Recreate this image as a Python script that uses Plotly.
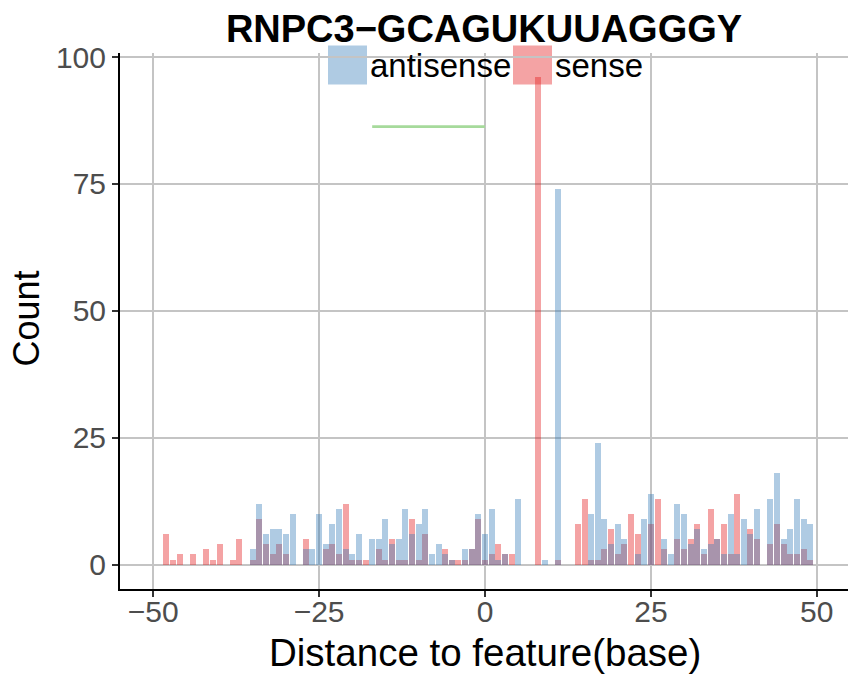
import plotly.graph_objects as go

# ---------------- data ----------------
antisense_x = [-35, -34, -33, -32, -31, -30, -29, -27, -26, -25, -24, -23, -22, -21, -20, -19,
               -17, -16, -15, -14, -13, -12, -11, -10, -9, -8, -7, -6, -5, -3, -2, -1, 0, 1, 2, 3,
               5, 9, 11, 16, 17, 18, 19, 20, 21, 23, 24, 25, 27, 28, 29, 30, 31, 32, 33, 34, 35,
               36, 37, 38, 39, 40, 41, 43, 44, 45, 46, 47, 48, 49]
antisense_y = [3, 12, 6, 7, 7, 6, 10, 3, 3, 10, 4, 8, 11, 3, 2, 6,
               5, 5, 9, 4, 5, 11, 6, 8, 11, 2, 4, 2, 1, 3, 3, 10, 6, 11, 1, 2,
               13, 1, 74, 10, 24, 9, 4, 8, 5, 2, 9, 14, 5, 2, 12, 10, 4, 7, 3, 4, 5,
               2, 10, 2, 9, 6, 11, 13, 18, 5, 7, 13, 9, 8]

sense_x = [-48, -47, -46, -44, -42, -41, -40, -38, -37, -35, -34, -33, -32, -31, -30, -27,
           -24, -23, -22, -21, -20, -19, -18, -16, -15, -14, -13, -12, -11, -10, -9, -6, -5,
           -4, -3, -2, -1, 0, 1, 2, 3, 4, 8, 11, 14, 15, 16, 17, 18, 19, 20, 21, 22, 23, 25,
           26, 27, 29, 30, 31, 32, 33, 34, 35, 36, 37, 38, 40, 41, 43, 44, 45, 46, 47, 48, 49]
sense_y = [6, 1, 2, 2, 3, 1, 4, 1, 5, 1, 9, 4, 2, 4, 2, 5,
           3, 4, 2, 12, 1, 1, 1, 3, 1, 5, 1, 1, 9, 1, 6, 3, 1,
           1, 1, 3, 9, 1, 2, 4, 2, 2, 96, 1, 8, 13, 1, 1, 3, 7, 2, 4, 10, 6, 8,
           13, 3, 5, 3, 5, 8, 2, 11, 5, 8, 2, 14, 7, 5, 4, 8, 4, 2, 2, 3, 1]

motif_x = [-17, 0]
motif_y = [86.3, 86.3]

title_text = "RNPC3\u2212GCAGUKUUAGGGY"
x_title = "Distance to feature(base)"
y_title = "Count"
x_ticks = [-50, -25, 0, 25, 50]
y_ticks = [0, 25, 50, 75, 100]

# ---------------- styles ----------------
FONT = "Liberation Sans, Arial, sans-serif"
BLUE = "rgba(55,126,184,0.4)"
RED = "rgba(228,26,28,0.4)"
BLUE_KEY = "#afcbe3"
RED_KEY = "#f4a3a4"
GRID = "#c4c4c4"

fig = go.Figure()
fig.add_trace(go.Bar(x=sense_x, y=sense_y, width=0.9, name="sense",
                     marker=dict(color=RED, line=dict(width=0))))
fig.add_trace(go.Bar(x=antisense_x, y=antisense_y, width=0.9, name="antisense",
                     marker=dict(color=BLUE, line=dict(width=0))))
fig.add_trace(go.Scatter(x=motif_x, y=motif_y, mode="lines", showlegend=False,
                         line=dict(color="rgb(166,218,155)", width=2.6)))

# manual legend (ggplot style big keys)
L, W, T, H = 120, 728, 53.4, 536
def px(xp):
    return (xp - L) / W
def py(yp):
    return (T + H - yp) / H

shapes = [
    dict(type="rect", xref="paper", yref="paper", x0=px(328), x1=px(367), y0=py(85), y1=py(46),
         fillcolor=BLUE_KEY, line=dict(width=0), layer="between"),
    dict(type="rect", xref="paper", yref="paper", x0=px(513), x1=px(552), y0=py(85), y1=py(46),
         fillcolor=RED_KEY, line=dict(width=0), layer="between"),
]
annotations = [
    dict(text="antisense", xref="paper", yref="paper", x=px(368), y=py(66), xanchor="left",
         yanchor="middle", showarrow=False, font=dict(size=33, color="black", family=FONT)),
    dict(text="sense", xref="paper", yref="paper", x=px(553), y=py(66), xanchor="left",
         yanchor="middle", showarrow=False, font=dict(size=33, color="black", family=FONT)),
    dict(text=x_title, xref="paper", yref="paper", x=px(485), y=py(653), xanchor="center",
         yanchor="middle", showarrow=False, font=dict(size=38.5, color="black", family=FONT)),
    dict(text=y_title, xref="paper", yref="paper", x=px(27), y=py(319), xanchor="center",
         yanchor="middle", textangle=-90, showarrow=False,
         font=dict(size=36, color="black", family=FONT)),
]

fig.update_layout(
    width=848, height=678,
    margin=dict(l=120, r=0, t=53, b=89, pad=0, autoexpand=False),
    paper_bgcolor="white", plot_bgcolor="white",
    barmode="overlay", bargap=0,
    showlegend=False,
    font=dict(family=FONT),
    title=dict(text="<b>" + title_text + "</b>", x=0.5, xref="paper", xanchor="center",
               y=1 - 29 / 678, yref="container", yanchor="middle",
               font=dict(size=38, color="black", family=FONT)),
    shapes=shapes,
    annotations=annotations,
)
fig.update_xaxes(range=[-55, 54.7], tickvals=x_ticks, ticks="outside", ticklen=6, tickwidth=2,
                 tickcolor="#333333", showline=True, linecolor="black", linewidth=2,
                 showgrid=True, gridcolor=GRID, gridwidth=2, zeroline=False, automargin=False,
                 ticklabelstandoff=-11,
                 tickfont=dict(size=30, color="#4d4d4d", family=FONT))
fig.update_yaxes(range=[-4.8, 100.8], tickvals=y_ticks, ticks="outside", ticklen=6, tickwidth=2,
                 tickcolor="#333333", showline=True, linecolor="black", linewidth=2,
                 showgrid=True, gridcolor=GRID, gridwidth=2, zeroline=False, automargin=False,
                 tickfont=dict(size=30, color="#4d4d4d", family=FONT))

fig.write_html("out.html", config={"displayModeBar": False},
               post_script="document.body.style.margin='0';document.body.style.overflow='hidden';")
